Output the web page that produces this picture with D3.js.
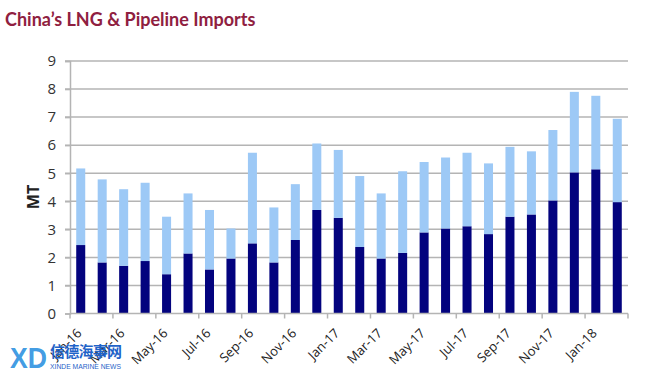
<!DOCTYPE html>
<html><head><meta charset="utf-8">
<script src="https://cdn.jsdelivr.net/npm/d3@7"></script>
<style>body{margin:0;background:#fff}svg{display:block}</style>
</head><body>
<svg id="c" width="670" height="380"></svg>
<script>
const months = ["Jan-16","Feb-16","Mar-16","Apr-16","May-16","Jun-16","Jul-16","Aug-16","Sep-16","Oct-16","Nov-16","Dec-16",
"Jan-17","Feb-17","Mar-17","Apr-17","May-17","Jun-17","Jul-17","Aug-17","Sep-17","Oct-17","Nov-17","Dec-17","Jan-18","Feb-18"];
const pipeline = [2.44,1.82,1.70,1.87,1.40,2.14,1.57,1.96,2.50,1.82,2.62,3.69,3.41,2.37,1.96,2.16,2.89,3.03,3.11,2.83,3.45,3.53,4.03,5.03,5.14,3.97];
const total = [5.17,4.78,4.43,4.66,3.45,4.28,3.69,3.03,5.73,3.78,4.61,6.06,5.83,4.90,4.28,5.07,5.40,5.56,5.73,5.35,5.94,5.78,6.54,7.90,7.76,6.94];
const lng = total.map((t,i)=>+(t-pipeline[i]).toFixed(2));
const yTicks = [0,1,2,3,4,5,6,7,8,9];
const xLabels = ["Jan-16","Mar-16","May-16","Jul-16","Sep-16","Nov-16","Jan-17","Mar-17","May-17","Jul-17","Sep-17","Nov-17","Jan-18"];

const svg = d3.select("#c");
const L=70, R=628, T=61, B=313.5;
const x = d3.scaleBand().domain(months).range([L,R]).paddingInner(0.58).paddingOuter(0.29);
const y = d3.scaleLinear().domain([0,9]).range([B,T]);

// title
svg.append("text").attr("x",5).attr("y",26).text("China’s LNG & Pipeline Imports")
  .attr("font-family","Lato").attr("font-weight","bold").attr("font-size",18).attr("fill","#8f2040");

// grid
svg.append("g").selectAll("line").data(yTicks.filter(d=>d>0)).join("line")
  .attr("x1",L-5).attr("x2",R).attr("y1",d=>y(d)).attr("y2",d=>y(d))
  .attr("stroke","#b4b4b4").attr("stroke-width",1.5);

// bars
const stacked = d3.stack().keys(["pipeline","lng"])(months.map((m,i)=>({m, pipeline:pipeline[i], lng:lng[i]})));
const colors = ["#03037e","#9dc9f6"];
svg.append("g").selectAll("g").data(stacked).join("g").attr("fill",(d,i)=>colors[i])
  .selectAll("rect").data(d=>d).join("rect")
  .attr("x",d=>x(d.data.m)).attr("width",x.bandwidth())
  .attr("y",d=>y(d[1])).attr("height",d=>y(d[0])-y(d[1]));

// y axis
const ya = svg.append("g").attr("transform",`translate(${L},0)`)
  .call(d3.axisLeft(y).tickValues(yTicks).tickSize(5).tickPadding(9));
ya.select(".domain").attr("stroke","#b4b4b4").attr("stroke-width",1.5);
ya.selectAll(".tick line").attr("stroke","#b4b4b4").attr("stroke-width",1.5);
ya.selectAll("text").attr("font-family","Open Sans").attr("font-size",15).attr("fill","#333");

// x axis
const tickIdx = d3.range(0,27,2);
const xa = svg.append("g");
xa.append("line").attr("x1",L).attr("x2",R).attr("y1",B).attr("y2",B).attr("stroke","#b4b4b4").attr("stroke-width",1.5);
xa.selectAll("line.xt").data(tickIdx).join("line").attr("class","xt")
  .attr("x1",i=>L+i*(R-L)/26).attr("x2",i=>L+i*(R-L)/26).attr("y1",B).attr("y2",B+5)
  .attr("stroke","#b4b4b4").attr("stroke-width",1.5);
const xl = svg.append("g").attr("class","xlabels");
xLabels.forEach(d=>{
  const cx = x(d)+x.bandwidth()/2-5;
  xl.append("g").attr("transform",`translate(${cx},${B+13.5})`)
    .append("text").attr("transform","rotate(-45)")
    .attr("text-anchor","end").attr("dy","0.75em")
    .attr("font-family","Open Sans").attr("font-size",13).attr("fill","#222").text(d);
});

// y label
svg.append("text").attr("transform","translate(39,197) rotate(-90)").attr("text-anchor","middle")
  .attr("font-family","Open Sans").attr("font-weight","bold").attr("font-size",16).attr("fill","#222").text("MT");

// watermark
const wm = svg.append("g");
wm.append("text").attr("x",10).attr("y",368).text("XD").attr("font-family","Liberation Sans").attr("font-weight","bold")
  .attr("font-size",30).attr("textLength",37).attr("lengthAdjust","spacingAndGlyphs").attr("fill","#2a8fe0").attr("fill-opacity",0.9);
wm.append("text").attr("x",50).attr("y",357).text("信德海事网").attr("font-family","Noto Sans CJK SC").attr("font-weight","bold")
  .attr("font-size",15).attr("textLength",72).attr("fill","#1f63c8");
wm.append("text").attr("x",50).attr("y",369).text("XINDE MARINE NEWS").attr("font-family","Liberation Sans")
  .attr("font-size",8).attr("textLength",71).attr("lengthAdjust","spacingAndGlyphs").attr("fill","#1f63c8");
</script>
</body></html>
